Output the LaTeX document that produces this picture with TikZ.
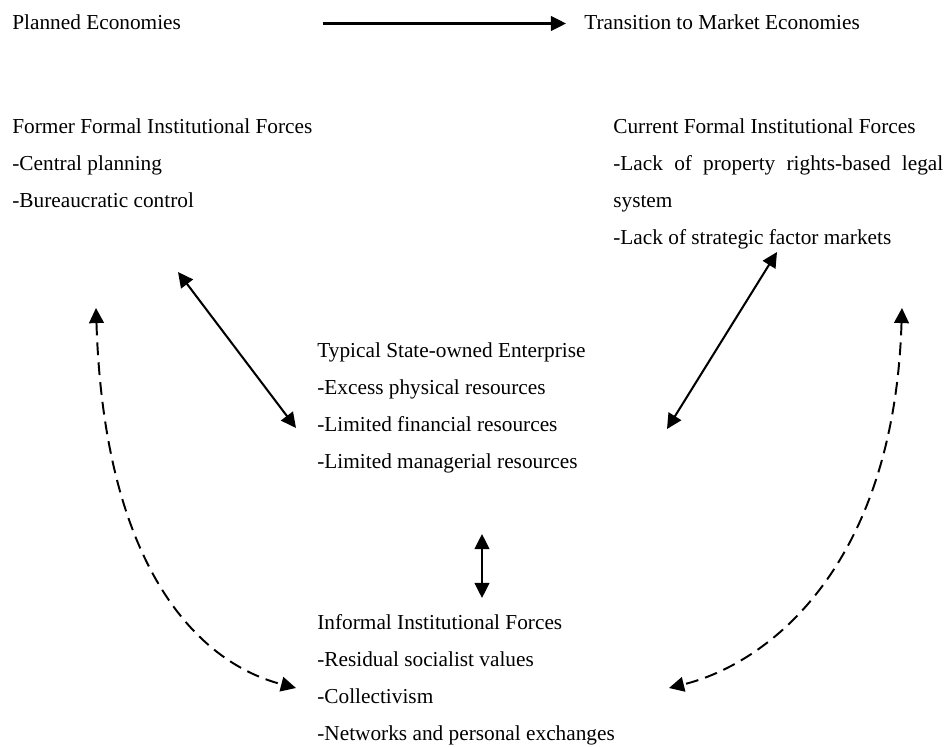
\documentclass[tikz,border=0pt]{standalone}
\usepackage{fontspec}
\setmainfont{Liberation Serif}
\usetikzlibrary{arrows.meta}
% left-aligned stack of lines whose reference point is the first baseline
\newcommand{\linestack}[1]{\begin{tabular}[t]{@{}l@{}}#1\end{tabular}}
\begin{document}
\begin{tikzpicture}[x=0.5634pt,y=-0.5634pt,
  >={Triangle[length=8.5pt,width=8.3pt]},
  txt/.style={anchor=base west, inner sep=0pt, font=\fontsize{12pt}{20.85pt}\selectfont},
  link/.style={line width=1.15pt},
  softlink/.style={line width=1.1pt, dash pattern=on 7.2pt off 4pt}]
\useasboundingbox (0,0) rectangle (946,747);

% headings
\node[txt] (planned) at (12,29) {Planned Economies};
\node[txt] (transition) at (584,29) {Transition to Market Economies};

% institutional blocks
\node[txt] (former) at (12,133) {\linestack{Former Formal Institutional Forces\\
  -Central planning\\
  -Bureaucratic control}};
\node[txt] (current) at (613,133) {\linestack{Current Formal Institutional Forces\\
  \makebox[185.9pt][s]{-Lack of property rights-based legal}\\
  system\\
  -Lack of strategic factor markets}};
\node[txt] (soe) at (317,357) {\linestack{Typical State-owned Enterprise\\
  -Excess physical resources\\
  -Limited financial resources\\
  -Limited managerial resources}};
\node[txt] (informal) at (317,629) {\linestack{Informal Institutional Forces\\
  -Residual socialist values\\
  -Collectivism\\
  -Networks and personal exchanges}};

% connector end points
\coordinate (planned-out) at (323,23.5);
\coordinate (transition-in) at (566,23.5);
\coordinate (former-end) at (178,272);
\coordinate (soe-left) at (296,428);
\coordinate (current-end) at (777,252);
\coordinate (soe-right) at (667,429);
\coordinate (soe-bottom) at (482,534);
\coordinate (informal-top) at (482,598);
\coordinate (former-far) at (96,308);
\coordinate (informal-left) at (296,688);
\coordinate (current-far) at (902,308);
\coordinate (informal-right) at (669,688);

% connectors
\draw[link,->] (planned-out) -- (transition-in);
\draw[link,<->] (former-end) -- (soe-left);
\draw[link,<->] (current-end) -- (soe-right);
\draw[link,<->] (soe-bottom) -- (informal-top);
\draw[softlink,<->] (former-far) .. controls (104,565) and (196,662) .. (informal-left);
\draw[softlink,<->] (current-far) .. controls (894,565) and (770,663) .. (informal-right);
\end{tikzpicture}
\end{document}
